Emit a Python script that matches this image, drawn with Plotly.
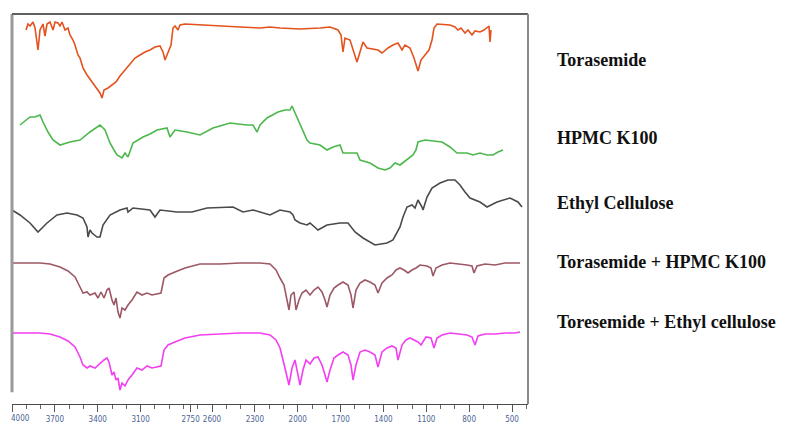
import plotly.graph_objects as go

# ---------------- data (wavenumber, cm-1 ; offset transmittance) ----------------
tick_wn = [4000, 3700, 3400, 3100, 2750, 2600, 2300, 2000, 1700, 1400, 1100, 800, 500]
tick_labels = ["4000", "3700", "3400", "3100", "2750", "2600", "2300", "2000", "1700", "1400", "1100", "800", "500"]

labels = ["Torasemide", "HPMC K100", "Ethyl Cellulose", "Torasemide + HPMC K100", "Toresemide + Ethyl cellulose"]
label_level = [344, 266, 201, 142, 82]

tor_wn = [3902, 3888, 3874, 3853, 3839, 3818, 3804, 3783, 3769, 3755,
          3734, 3713, 3699, 3678, 3664, 3650, 3629, 3608, 3594, 3573,
          3559, 3538, 3524, 3503, 3475, 3440, 3405, 3384, 3370, 3356,
          3328, 3300, 3272, 3244, 3209, 3174, 3139, 3104, 3069, 3034,
          2999, 2964, 2943, 2929, 2908, 2887, 2873, 2859, 2838, 2824,
          2789, 2684, 2544, 2404, 2264, 2194, 2124, 1984, 1844, 1774,
          1718, 1697, 1683, 1669, 1634, 1613, 1585, 1564, 1543, 1515,
          1480, 1438, 1410, 1368, 1333, 1298, 1270, 1249, 1214, 1186,
          1158, 1137, 1109, 1081, 1060, 1046, 1025, 969, 934, 899,
          878, 857, 829, 808, 780, 759, 724, 696, 675, 661,
          654, 647]
tor_t = [374, 380, 378, 382, 376, 354, 374, 380, 368, 380,
         382, 374, 382, 381, 378, 382, 374, 376, 369, 364,
         359, 349, 346, 336, 329, 322, 314, 311, 306, 314,
         316, 319, 322, 328, 334, 341, 346, 349, 352, 354,
         357, 358, 352, 344, 352, 359, 376, 378, 374, 379,
         380, 379, 378, 377, 376, 377, 376, 375, 376, 377,
         374, 369, 352, 366, 364, 354, 342, 352, 362, 356,
         355, 354, 351, 356, 359, 361, 354, 359, 356, 346,
         333, 344, 349, 354, 364, 376, 380, 379, 379, 377,
         374, 376, 371, 374, 369, 373, 372, 374, 376, 378,
         362, 374]

hpmc_wn = [3944, 3909, 3874, 3839, 3804, 3783, 3748, 3713, 3664, 3594,
           3524, 3454, 3384, 3349, 3314, 3286, 3265, 3230, 3209, 3188,
           3153, 3083, 3034, 2985, 2915, 2894, 2859, 2775, 2684, 2593,
           2474, 2355, 2313, 2285, 2264, 2215, 2138, 2089, 2054, 2040,
           2012, 1984, 1935, 1914, 1844, 1795, 1753, 1704, 1683, 1634,
           1585, 1564, 1494, 1438, 1389, 1354, 1319, 1284, 1235, 1193,
           1172, 1158, 1109, 1060, 990, 934, 885, 815, 773, 724,
           675, 633, 598, 563]
hpmc_t = [279, 283, 287, 287, 289, 282, 272, 264, 259, 262,
          264, 272, 279, 274, 261, 254, 249, 246, 251, 247,
          261, 267, 270, 274, 276, 267, 274, 272, 269, 276,
          281, 279, 279, 272, 279, 286, 292, 294, 294, 298,
          289, 281, 264, 261, 259, 254, 257, 259, 251, 251,
          251, 244, 241, 236, 234, 236, 241, 239, 244, 249,
          254, 262, 264, 263, 262, 257, 251, 251, 249, 251,
          249, 249, 252, 254]

ec_wn = [4000, 3944, 3874, 3818, 3755, 3685, 3615, 3545, 3503, 3475,
         3468, 3454, 3440, 3419, 3405, 3384, 3363, 3314, 3244, 3195,
         3188, 3153, 3034, 2999, 2964, 2845, 2740, 2635, 2453, 2383,
         2313, 2264, 2194, 2124, 2054, 2033, 2019, 1984, 1935, 1914,
         1858, 1795, 1704, 1648, 1599, 1543, 1459, 1375, 1333, 1284,
         1263, 1235, 1200, 1179, 1158, 1130, 1123, 1095, 1060, 1004,
         948, 899, 864, 829, 794, 724, 675, 605, 563, 514,
         458, 430]
ec_t = [194, 189, 181, 172, 181, 189, 191, 189, 186, 177,
        167, 174, 171, 168, 167, 167, 179, 189, 194, 196,
        192, 196, 194, 187, 194, 192, 192, 196, 197, 192,
        194, 192, 189, 194, 192, 189, 184, 181, 179, 181,
        174, 179, 181, 181, 172, 166, 159, 161, 164, 177,
        187, 197, 199, 196, 204, 197, 194, 207, 216, 221,
        224, 224, 219, 212, 206, 202, 197, 202, 204, 206,
        202, 197]

th_wn = [4000, 3909, 3804, 3734, 3664, 3608, 3559, 3524, 3503, 3475,
         3454, 3419, 3398, 3377, 3356, 3335, 3321, 3300, 3286, 3272,
         3258, 3244, 3230, 3209, 3188, 3160, 3125, 3090, 3055, 3020,
         2985, 2957, 2936, 2908, 2859, 2789, 2684, 2544, 2404, 2264,
         2194, 2152, 2124, 2096, 2075, 2061, 2047, 2026, 2012, 1991,
         1970, 1942, 1914, 1886, 1858, 1830, 1809, 1795, 1774, 1746,
         1718, 1683, 1648, 1627, 1613, 1592, 1564, 1529, 1494, 1459,
         1438, 1410, 1375, 1340, 1312, 1284, 1256, 1228, 1200, 1172,
         1144, 1095, 1067, 1053, 1032, 990, 934, 864, 815, 780,
         766, 745, 689, 619, 549, 479, 444]
th_t = [141, 141, 141, 140, 137, 133, 127, 117, 111, 112,
        109, 111, 106, 112, 106, 114, 116, 104, 99, 106,
        92, 86, 96, 94, 99, 104, 112, 109, 111, 109,
        110, 111, 126, 129, 132, 136, 140, 140, 141, 141,
        140, 134, 126, 119, 104, 94, 109, 112, 94, 104,
        111, 114, 109, 114, 117, 112, 104, 97, 109, 116,
        119, 122, 119, 109, 96, 114, 121, 124, 122, 119,
        111, 121, 126, 129, 134, 136, 134, 131, 134, 136,
        139, 138, 136, 128, 136, 139, 141, 140, 139, 138,
        131, 138, 140, 139, 141, 141, 141]

te_wn = [4000, 3909, 3804, 3734, 3664, 3608, 3559, 3524, 3503, 3475,
         3454, 3419, 3398, 3377, 3356, 3335, 3321, 3300, 3286, 3272,
         3258, 3244, 3230, 3209, 3188, 3160, 3125, 3090, 3055, 3020,
         2985, 2957, 2936, 2908, 2859, 2789, 2684, 2544, 2404, 2264,
         2194, 2152, 2124, 2103, 2082, 2061, 2040, 2019, 1998, 1984,
         1963, 1942, 1914, 1886, 1858, 1830, 1809, 1795, 1774, 1746,
         1718, 1683, 1648, 1627, 1613, 1592, 1564, 1529, 1494, 1459,
         1438, 1410, 1375, 1340, 1312, 1298, 1270, 1242, 1214, 1186,
         1158, 1137, 1102, 1067, 1046, 1025, 990, 934, 864, 815,
         780, 759, 738, 689, 619, 549, 479, 444]
te_t = [71, 71, 71, 70, 67, 63, 57, 47, 39, 36,
        38, 36, 39, 42, 44, 46, 42, 29, 32, 24,
        26, 14, 21, 18, 24, 29, 36, 34, 38, 36,
        37, 38, 54, 59, 62, 66, 69, 70, 71, 71,
        69, 64, 56, 44, 32, 19, 36, 44, 29, 19,
        34, 44, 40, 46, 47, 39, 29, 22, 34, 46,
        49, 52, 49, 39, 24, 39, 52, 54, 52, 49,
        37, 52, 56, 58, 56, 44, 59, 64, 66, 64,
        62, 59, 67, 66, 56, 66, 69, 71, 70, 69,
        67, 59, 68, 70, 70, 71, 71, 72]

series = [
    (tor_wn, tor_t, "#e4521d"),
    (hpmc_wn, hpmc_t, "#4cb84c"),
    (ec_wn, ec_t, "#4a4a4a"),
    (th_wn, th_t, "#9c5864"),
    (te_wn, te_t, "#f23ff2"),
]

tick_font = dict(family="DejaVu Sans Condensed", size=8, color="#4a6494")

fig = go.Figure()
for (wx, wy, col), name in zip(series, labels):
    fig.add_trace(go.Scatter(x=wx, y=wy, mode="lines", name=name,
                             line=dict(color=col, width=1.6), showlegend=False))

for name, lvl in zip(labels, label_level):
    fig.add_annotation(x=1.052, xref="paper", y=lvl, yref="y", text="<b>" + name + "</b>",
                       showarrow=False, xanchor="left", yanchor="middle",
                       font=dict(family="Liberation Serif", size=18, color="#111111"))

# the first tick label sits on the page's left edge; draw it left-anchored so it stays inside
fig.add_annotation(x=tick_wn[0], xref="x", y=0, yref="paper", text=tick_labels[0],
                   showarrow=False, xanchor="left", yanchor="top", xshift=-3, yshift=-8,
                   font=tick_font)
shown_labels = [""] + tick_labels[1:]

# frame lines
fig.add_shape(type="line", xref="paper", yref="paper", x0=0, x1=0, y0=0.03, y1=1,
              line=dict(color="#9a9a9a", width=3))
fig.add_shape(type="line", xref="paper", yref="paper", x0=0, x1=1, y0=1, y1=1,
              line=dict(color="#606060", width=2))
fig.add_shape(type="line", xref="paper", yref="paper", x0=1, x1=1, y0=0, y1=1,
              line=dict(color="#8a8a8a", width=2))

# the page body adds an 8 px offset, so the figure is sized to compensate
fig.update_layout(
    width=793, height=421,
    margin=dict(l=4, r=273, t=6, b=25, autoexpand=False),
    paper_bgcolor="white", plot_bgcolor="white",
    xaxis=dict(range=[4000, 388], showgrid=False, zeroline=False, automargin=False,
               showline=True, linecolor="#4a4a4a", linewidth=1,
               tickmode="array", tickvals=tick_wn, ticktext=shown_labels, tickangle=0,
               ticklabeloverflow="allow",
               ticks="outside", ticklen=7, tickwidth=1, tickcolor="#555555",
               tickfont=tick_font,
               minor=dict(tickmode="linear", tick0=0, dtick=100, ticks="outside",
                          ticklen=4, tickcolor="#666666")),
    yaxis=dict(range=[0, 390], visible=False, showgrid=False, zeroline=False, automargin=False),
)

fig.write_html("out.html")
